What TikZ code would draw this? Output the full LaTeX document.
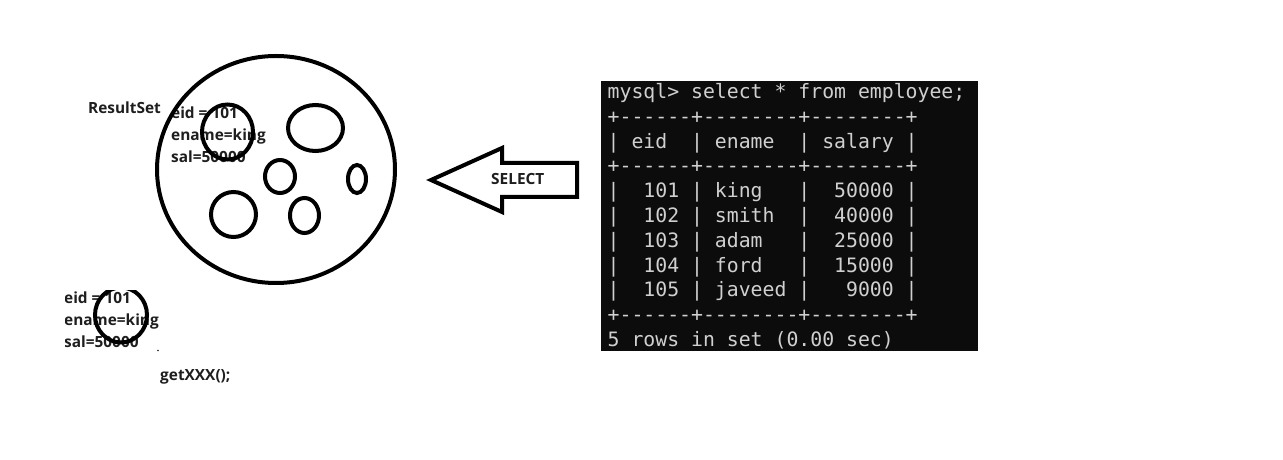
\documentclass[tikz,border=0pt]{standalone}
\usepackage{fontspec}
\setmainfont{Open Sans}
\setmonofont{DejaVu Sans Mono}[WordSpace={1,0,0}]
\definecolor{termbg}{HTML}{0C0C0C}
\definecolor{termfg}{HTML}{D0D0D0}
\definecolor{ink}{HTML}{1E1E1E}
\begin{document}
\begin{tikzpicture}[x=1bp,y=-1bp,
  lbl/.style={anchor=base west, inner sep=0pt, font=\fontsize{15.4bp}{18bp}\selectfont\bfseries, text=ink},
  term/.style={anchor=base west, inner sep=0pt, font=\ttfamily\fontsize{19.8bp}{24bp}\selectfont, text=termfg},
  ring/.style={line width=4bp, draw=black},
]
\useasboundingbox[fill=white] (0,0) rectangle (1283,460);

% ---- ResultSet labels
\node[lbl] (rs) at (88,113.5) {ResultSet};
\node[lbl] (r1) at (171,118.5) {eid = 101};
\node[lbl] (r2) at (171,140.5) {ename=king};
\node[lbl] (r3) at (171,162.5) {sal=50000};

% ---- big circle and rows
\draw[ring] (276,169.5) ellipse [x radius=119, y radius=113.5];
\draw[ring] (227.5,132) ellipse [x radius=25.5, y radius=27.5];
\draw[ring] (315.5,128) ellipse [x radius=27.5, y radius=23];
\draw[ring] (280,176.5) ellipse [x radius=15, y radius=16.5];
\draw[ring] (357,179) ellipse [x radius=9, y radius=14];
\draw[ring] (233.5,214.5) ellipse [x radius=22.5, y radius=22.5];
\draw[ring] (304.5,215.5) ellipse [x radius=14.5, y radius=17.5];

% ---- cropped copy below
\begin{scope}
  \clip (65.5,291) rectangle (200,362);
  \node[lbl] (b1) at (64,303.5) {eid = 101};
  \node[lbl] (b2) at (64,325.5) {ename=king};
  \node[lbl] (b3) at (64,347.5) {sal=50000};
  \draw[ring] (121,315) ellipse [x radius=26, y radius=27.5];
\end{scope}
\fill[ink] (158,350.5) circle (0.8);
\node[lbl] (get) at (160,381) {getXXX();};

% ---- SELECT arrow
\draw[ring, line join=miter] (577,163) -- (502,163) -- (502,148) -- (431,180)
  -- (502,212) -- (502,197) -- (577,197) -- cycle;
\node[lbl] (sel) at (491,185) {SELECT};

% ---- terminal
\fill[termbg] (601,81) rectangle (978,351);
\node[term] (t0)  at (607.5,98.5)  {mysql>~select~*~from~employee;};
\node[term] (t1)  at (607.5,123.3) {+------+--------+--------+};
\node[term] (t2)  at (607.5,148.1) {|~eid~~|~ename~~|~salary~|};
\node[term] (t3)  at (607.5,172.9) {+------+--------+--------+};
\node[term] (t4)  at (607.5,197.7) {|~~101~|~king~~~|~~50000~|};
\node[term] (t5)  at (607.5,222.5) {|~~102~|~smith~~|~~40000~|};
\node[term] (t6)  at (607.5,247.3) {|~~103~|~adam~~~|~~25000~|};
\node[term] (t7)  at (607.5,272.1) {|~~104~|~ford~~~|~~15000~|};
\node[term] (t8)  at (607.5,296.9) {|~~105~|~javeed~|~~~9000~|};
\node[term] (t9)  at (607.5,321.7) {+------+--------+--------+};
\node[term] (t10) at (607.5,346.5) {5~rows~in~set~(0.00~sec)};
\end{tikzpicture}
\end{document}
